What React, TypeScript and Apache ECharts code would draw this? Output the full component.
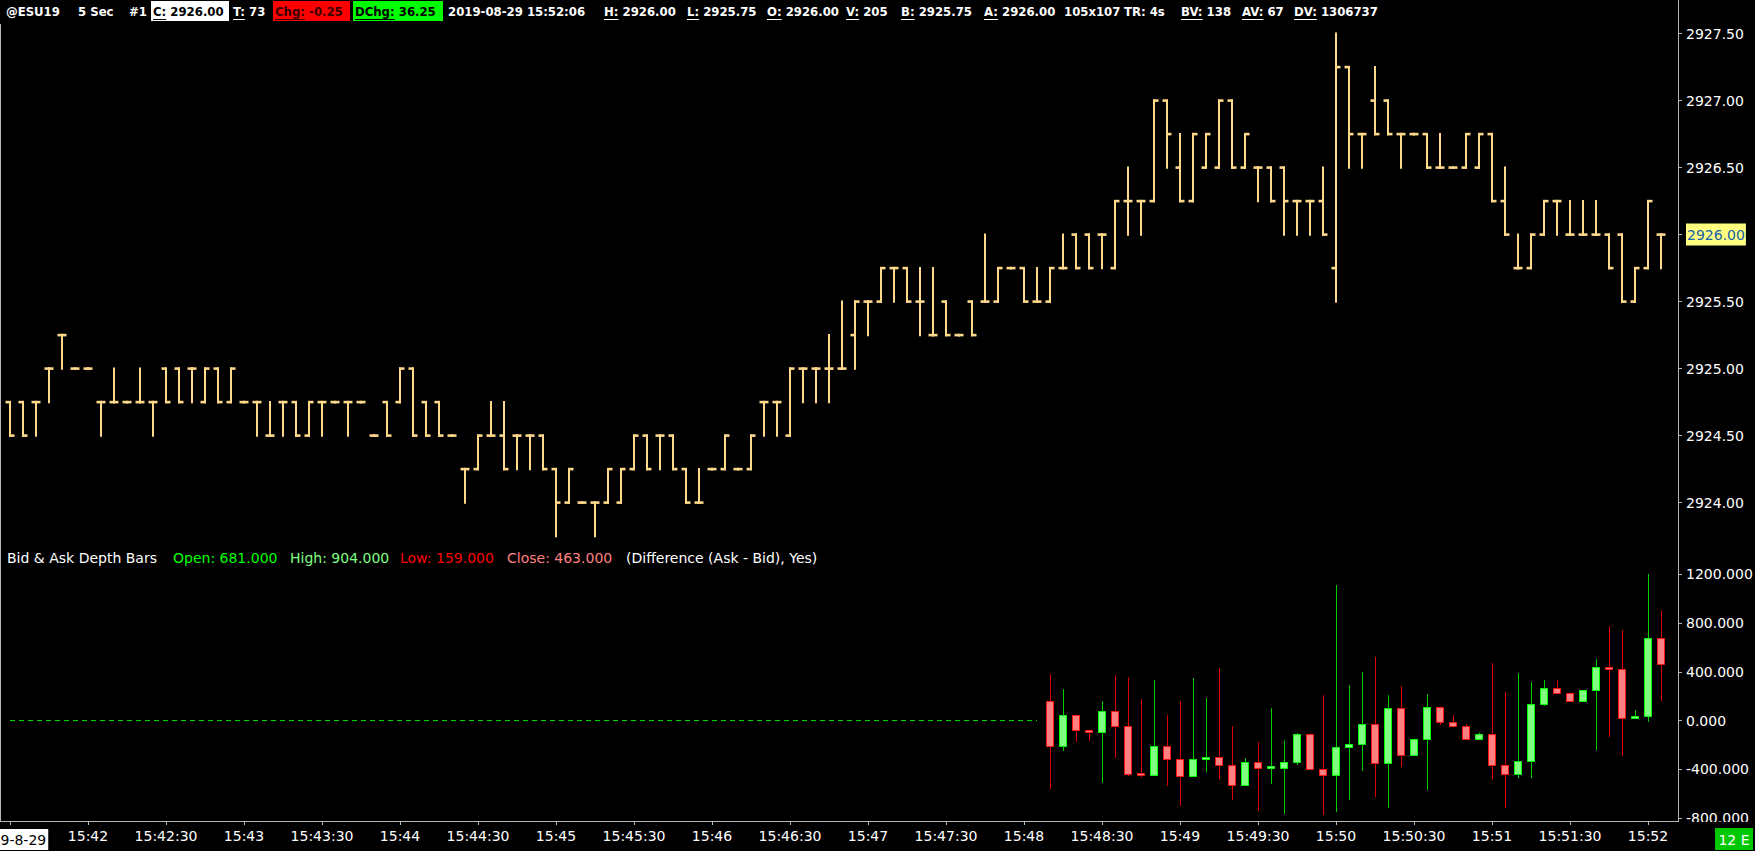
import React, { useEffect, useRef } from "react";
import * as echarts from "echarts";

// ---------- time categories (5-second bars) ----------
const START_SECONDS = 15 * 3600 + 41 * 60 + 30;
const BAR_SECONDS = 5;
const BAR_COUNT = 128;
const pad2 = (n: number) => String(n).padStart(2, "0");
const TIMES: string[] = Array.from({ length: BAR_COUNT }, (_, i) => {
  const s = START_SECONDS + BAR_SECONDS * i;
  return `${pad2(Math.floor(s / 3600))}:${pad2(Math.floor((s % 3600) / 60))}:${pad2(s % 60)}`;
});
const DATE_LABEL = "2019-8-29";
const LABEL_EVERY = 6;

// ---------- price bars (@ESU19, 5 sec) ----------
const priceOpen = [
  2924.75, 2924.75, 2924.75, 2925.0, 2925.25, 2925.0, 2925.0, 2924.75, 2924.75, 2924.75,
  2924.75, 2924.75, 2925.0, 2925.0, 2925.0, 2924.75, 2925.0, 2924.75, 2924.75, 2924.75,
  2924.5, 2924.75, 2924.75, 2924.5, 2924.75, 2924.75, 2924.75, 2924.75, 2924.5, 2924.75,
  2924.75, 2925.0, 2924.75, 2924.75, 2924.5, 2924.25, 2924.25, 2924.5, 2924.5, 2924.5,
  2924.5, 2924.5, 2924.25, 2924.0, 2924.0, 2924.0, 2924.0, 2924.0, 2924.25, 2924.5,
  2924.5, 2924.5, 2924.25, 2924.0, 2924.25, 2924.25, 2924.25, 2924.25, 2924.75, 2924.75,
  2924.5, 2925.0, 2925.0, 2925.0, 2925.0, 2925.25, 2925.5, 2925.5, 2925.75, 2925.75,
  2925.5, 2925.25, 2925.5, 2925.25, 2925.5, 2925.5, 2925.5, 2925.75, 2925.75, 2925.5,
  2925.5, 2925.75, 2926.0, 2926.0, 2926.0, 2925.75, 2926.25, 2926.25, 2926.25, 2927.0,
  2926.5, 2926.25, 2926.5, 2926.5, 2927.0, 2926.5, 2926.5, 2926.5, 2926.5, 2926.25,
  2926.25, 2926.25, 2925.75, 2927.25, 2926.75, 2927.0, 2927.0, 2926.75, 2926.75, 2926.75,
  2926.5, 2926.5, 2926.5, 2926.5, 2926.75, 2926.25, 2925.75, 2925.75, 2926.0, 2926.25,
  2926.0, 2926.0, 2926.0, 2926.0, 2926.0, 2925.5, 2925.75, 2926.0,
];
const priceHigh = [
  2924.75, 2924.75, 2924.75, 2925.0, 2925.25, 2925.0, 2925.0, 2924.75, 2925.0, 2924.75,
  2925.0, 2924.75, 2925.0, 2925.0, 2925.0, 2925.0, 2925.0, 2925.0, 2924.75, 2924.75,
  2924.75, 2924.75, 2924.75, 2924.75, 2924.75, 2924.75, 2924.75, 2924.75, 2924.5, 2924.75,
  2925.0, 2925.0, 2924.75, 2924.75, 2924.5, 2924.25, 2924.5, 2924.75, 2924.75, 2924.5,
  2924.5, 2924.5, 2924.25, 2924.25, 2924.0, 2924.0, 2924.25, 2924.25, 2924.5, 2924.5,
  2924.5, 2924.5, 2924.25, 2924.25, 2924.25, 2924.5, 2924.25, 2924.5, 2924.75, 2924.75,
  2925.0, 2925.0, 2925.0, 2925.25, 2925.5, 2925.5, 2925.5, 2925.75, 2925.75, 2925.75,
  2925.75, 2925.75, 2925.5, 2925.25, 2925.5, 2926.0, 2925.75, 2925.75, 2925.75, 2925.75,
  2925.75, 2926.0, 2926.0, 2926.0, 2926.0, 2926.25, 2926.5, 2926.25, 2927.0, 2927.0,
  2926.75, 2926.75, 2926.75, 2927.0, 2927.0, 2926.75, 2926.5, 2926.5, 2926.5, 2926.25,
  2926.25, 2926.5, 2927.5, 2927.25, 2926.75, 2927.25, 2927.0, 2926.75, 2926.75, 2926.75,
  2926.75, 2926.5, 2926.75, 2926.75, 2926.75, 2926.5, 2926.0, 2926.0, 2926.25, 2926.25,
  2926.25, 2926.25, 2926.25, 2926.0, 2926.0, 2925.75, 2926.25, 2926.0,
];
const priceLow = [
  2924.5, 2924.5, 2924.5, 2924.75, 2925.0, 2925.0, 2925.0, 2924.5, 2924.75, 2924.75,
  2924.75, 2924.5, 2924.75, 2924.75, 2924.75, 2924.75, 2924.75, 2924.75, 2924.75, 2924.5,
  2924.5, 2924.5, 2924.5, 2924.5, 2924.5, 2924.75, 2924.5, 2924.75, 2924.5, 2924.5,
  2924.75, 2924.5, 2924.5, 2924.5, 2924.5, 2924.0, 2924.25, 2924.5, 2924.25, 2924.25,
  2924.25, 2924.25, 2923.75, 2924.0, 2924.0, 2923.75, 2924.0, 2924.0, 2924.25, 2924.25,
  2924.25, 2924.25, 2924.0, 2924.0, 2924.25, 2924.25, 2924.25, 2924.25, 2924.5, 2924.5,
  2924.5, 2924.75, 2924.75, 2924.75, 2925.0, 2925.0, 2925.25, 2925.5, 2925.5, 2925.5,
  2925.25, 2925.25, 2925.25, 2925.25, 2925.25, 2925.5, 2925.5, 2925.75, 2925.5, 2925.5,
  2925.5, 2925.75, 2925.75, 2925.75, 2925.75, 2925.75, 2926.0, 2926.0, 2926.25, 2926.5,
  2926.25, 2926.25, 2926.5, 2926.5, 2926.5, 2926.5, 2926.25, 2926.25, 2926.0, 2926.0,
  2926.0, 2926.0, 2925.5, 2926.5, 2926.5, 2926.75, 2926.75, 2926.5, 2926.75, 2926.5,
  2926.5, 2926.5, 2926.5, 2926.5, 2926.25, 2926.0, 2925.75, 2925.75, 2926.0, 2926.0,
  2926.0, 2926.0, 2926.0, 2925.75, 2925.5, 2925.5, 2925.75, 2925.75,
];
const priceClose = [
  2924.5, 2924.5, 2924.75, 2925.0, 2925.25, 2925.0, 2925.0, 2924.75, 2924.75, 2924.75,
  2924.75, 2924.75, 2924.75, 2924.75, 2925.0, 2925.0, 2924.75, 2925.0, 2924.75, 2924.75,
  2924.5, 2924.75, 2924.5, 2924.75, 2924.75, 2924.75, 2924.75, 2924.75, 2924.5, 2924.5,
  2925.0, 2924.5, 2924.5, 2924.5, 2924.5, 2924.25, 2924.5, 2924.5, 2924.25, 2924.5,
  2924.5, 2924.25, 2924.0, 2924.25, 2924.0, 2924.0, 2924.25, 2924.25, 2924.5, 2924.25,
  2924.5, 2924.25, 2924.0, 2924.0, 2924.25, 2924.5, 2924.25, 2924.5, 2924.75, 2924.75,
  2925.0, 2925.0, 2925.0, 2925.0, 2925.0, 2925.5, 2925.5, 2925.75, 2925.75, 2925.5,
  2925.5, 2925.25, 2925.25, 2925.25, 2925.25, 2925.5, 2925.75, 2925.75, 2925.5, 2925.5,
  2925.75, 2925.75, 2925.75, 2925.75, 2926.0, 2926.25, 2926.25, 2926.25, 2927.0, 2926.75,
  2926.25, 2926.75, 2926.75, 2927.0, 2926.5, 2926.75, 2926.5, 2926.25, 2926.25, 2926.25,
  2926.25, 2926.0, 2927.25, 2926.75, 2926.75, 2926.75, 2926.75, 2926.75, 2926.75, 2926.5,
  2926.5, 2926.5, 2926.75, 2926.75, 2926.25, 2926.0, 2925.75, 2926.0, 2926.25, 2926.25,
  2926.0, 2926.0, 2926.0, 2925.75, 2925.5, 2925.75, 2926.25, 2926.0,
];
const PRICE_MIN = 2924.0;
const PRICE_MAX = 2927.5;
const PRICE_STEP = 0.5;
const LAST_PRICE = 2926.0;

// ---------- Bid & Ask depth bars (Ask - Bid), starting at bar index 80 ----------
const DEPTH_START = 80;
const depthOpen = [
  164, -205, 49, -74, -93, 82, -41, -436, -447, -205, -315, -452, -315, -296, -362, -529,
  -337, -386, -386, -337, -112, -397, -444, -214, -189, -25, -345, 107, -282, -148, 115, -8,
  -41, -151, -107, -364, -438, -329, 132, 263, 222, 164, 247, 436, 425, 25, 36, 681,
];
const depthClose = [
  -205, 49, -74, -90, 82, -41, -436, -447, -205, -315, -452, -315, -296, -362, -529, -337,
  -386, -382, -337, -112, -397, -444, -214, -189, -25, -345, 107, -282, -148, 115, -8, -41,
  -151, -107, -364, -438, -329, 132, 263, 222, 164, 247, 436, 425, 25, 36, 680, 463,
];
const depthLow = [
  -564, -249, -175, -167, -512, -307, -455, -466, -455, -537, -701, -458, -425, -482, -652, -529,
  -742, -521, -767, -364, -400, -775, -751, -652, -414, -627, -718, -384, -282, -570, -36, -41,
  -151, -151, -482, -718, -474, -474, 121, 222, 164, 156, -244, -137, -290, 14, -11, 159,
];
const depthHigh = [
  381, 258, 49, -74, 159, 373, 356, 175, 332, 44, 159, 348, 184, 430, -47, -310,
  -178, 101, -162, -104, -104, 208, 1112, 290, 397, 521, 208, 282, -148, 216, 115, 44,
  -30, -99, 471, 233, 389, 315, 332, 332, 230, 247, 504, 775, 742, 85, 1203, 904,
];
const DEPTH_MIN = -800;
const DEPTH_MAX = 1200;
const DEPTH_STEP = 400;

// ---------- texts ----------
const HEADER_FONT = 'bold 13px "DejaVu Sans Condensed", "DejaVu Sans"';
const headerItems = [
  { label: "", value: "@ESU19", x: 6 },
  { label: "", value: "5 Sec", x: 78 },
  { label: "", value: "#1", x: 129 },
  { label: "C:", value: " 2926.00", x: 153, color: "#000", bg: "#FFFFFF", bx0: 151, bx1: 229 },
  { label: "T:", value: " 73", x: 233 },
  { label: "Chg:", value: " -0.25", x: 275, color: "#3A0000", bg: "#FF0000", bx0: 273, bx1: 350 },
  { label: "DChg:", value: " 36.25", x: 355, color: "#000", bg: "#00FF00", bx0: 353, bx1: 443 },
  { label: "", value: "2019-08-29 15:52:06", x: 448 },
  { label: "H:", value: " 2926.00", x: 604 },
  { label: "L:", value: " 2925.75", x: 687 },
  { label: "O:", value: " 2926.00", x: 767 },
  { label: "V:", value: " 205", x: 846 },
  { label: "B:", value: " 2925.75", x: 901 },
  { label: "A:", value: " 2926.00", x: 984 },
  { label: "", value: "105x107", x: 1064 },
  { label: "", value: "TR: 4s", x: 1124 },
  { label: "BV:", value: " 138", x: 1181 },
  { label: "AV:", value: " 67", x: 1242 },
  { label: "DV:", value: " 1306737", x: 1294 },
];
const STUDY_FONT = '14px "DejaVu Sans"';
const studyItems = [
  { text: "Bid & Ask Depth Bars", x: 7, color: "#FFFFFF" },
  { text: "Open: 681.000", x: 173, color: "#00FF00" },
  { text: "High: 904.000", x: 290, color: "#80FF80" },
  { text: "Low: 159.000", x: 400, color: "#FF0000" },
  { text: "Close: 463.000", x: 507, color: "#FF8080" },
  { text: "(Difference (Ask - Bid), Yes)", x: 626, color: "#FFFFFF" },
];

const BAR_COLOR = "#FFD98A";
const AXIS_GRAY = "#B4B4B4";
const UP_FILL = "#80FF80";
const UP_BORDER = "#00FF00";
const UP_WICK = "#00D000";
const DN_FILL = "#FF8080";
const DN_BORDER = "#FF1010";
const DN_WICK = "#E00000";
const AXIS_FONT = "DejaVu Sans";

function measure(text: string, font: string): number {
  const c = document.createElement("canvas").getContext("2d");
  if (!c) return text.length * 7;
  c.font = font;
  return c.measureText(text).width;
}

export default function App() {
  const ref = useRef<HTMLDivElement>(null);

  useEffect(() => {
    if (!ref.current) return;
    const chart = echarts.init(ref.current, null, { renderer: "svg", width: 1755, height: 851 });

    const priceData = TIMES.map((_, i) => [i, priceOpen[i], priceHigh[i], priceLow[i], priceClose[i]]);
    const depthData = depthOpen.map((o, j) => [DEPTH_START + j, o, depthClose[j], depthLow[j], depthHigh[j]]);
    const zeroLine = TIMES.map((_, i) => (i < DEPTH_START ? 0 : null));

    const labelInterval = (index: number) => index % LABEL_EVERY === 0;

    const graphics: any[] = [];
    // frame lines
    graphics.push({ type: "line", z: 50, shape: { x1: 0.5, y1: 24, x2: 0.5, y2: 822 }, style: { stroke: AXIS_GRAY, lineWidth: 1 } });
    graphics.push({ type: "line", z: 50, shape: { x1: 1678.5, y1: 0, x2: 1678.5, y2: 822 }, style: { stroke: AXIS_GRAY, lineWidth: 1 } });
    graphics.push({ type: "line", z: 50, shape: { x1: 0, y1: 821.5, x2: 1679, y2: 821.5 }, style: { stroke: AXIS_GRAY, lineWidth: 1 } });
    // header
    headerItems.forEach((it: any) => {
      const color = it.color || "#FFFFFF";
      if (it.bg) {
        graphics.push({ type: "rect", z: 60, shape: { x: it.bx0, y: 1, width: it.bx1 - it.bx0, height: 20 }, style: { fill: it.bg } });
      }
      graphics.push({
        type: "text", z: 61, x: it.x, y: 11.5,
        style: { text: it.label + it.value, fill: color, font: HEADER_FONT, verticalAlign: "middle", textVerticalAlign: "middle", align: "left" },
      });
      if (it.label) {
        const w = measure(it.label, HEADER_FONT);
        graphics.push({ type: "line", z: 61, shape: { x1: it.x, y1: 19.5, x2: it.x + w, y2: 19.5 }, style: { stroke: color, lineWidth: 1 } });
      }
    });
    // study header
    studyItems.forEach((it) => {
      graphics.push({
        type: "text", z: 61, x: it.x, y: 558,
        style: { text: it.text, fill: it.color, font: STUDY_FONT, verticalAlign: "middle", textVerticalAlign: "middle", align: "left" },
      });
    });
    // mask below the plot on the right, and the "12 E" badge
    graphics.push({ type: "rect", z: 90, shape: { x: 1679, y: 822, width: 76, height: 29 }, style: { fill: "#000" } });
    graphics.push({ type: "rect", z: 91, shape: { x: 1715, y: 828, width: 38, height: 22 }, style: { fill: "#00C800" } });
    graphics.push({
      type: "text", z: 92, x: 1734, y: 839.5,
      style: { text: "12 E", fill: "#FFFFFF", font: '14px "DejaVu Sans"', align: "center", verticalAlign: "middle", textAlign: "center", textVerticalAlign: "middle" },
    });

    const option: any = {
      animation: false,
      backgroundColor: "#000000",
      grid: [
        { left: 3.5, width: 1664, top: 33.6, height: 469, containLabel: false, outerBoundsMode: "none" },
        { left: 3.5, width: 1664, top: 574.3, height: 243.75, containLabel: false, outerBoundsMode: "none" },
      ],
      xAxis: [
        { type: "category", gridIndex: 0, data: TIMES, boundaryGap: true, show: false },
        {
          type: "category", gridIndex: 1, data: TIMES, boundaryGap: true, position: "bottom", offset: 3,
          axisLine: { show: false, onZero: false },
          axisTick: { show: true, alignWithLabel: true, interval: labelInterval, length: 4, lineStyle: { color: AXIS_GRAY } },
          splitLine: { show: false },
          axisLabel: {
            interval: labelInterval, color: "#FFFFFF", fontFamily: AXIS_FONT, fontSize: 14, margin: 8,
            formatter: (v: string, i: number) => (i === 0 ? `{d|${DATE_LABEL}}` : v.endsWith(":00") ? v.slice(0, 5) : v),
            rich: { d: { backgroundColor: "#FFFFFF", color: "#000000", fontFamily: AXIS_FONT, fontSize: 14, padding: [4, 2, 3, 2] } },
          },
        },
      ],
      yAxis: [
        {
          type: "value", gridIndex: 0, position: "right", offset: 10.5,
          min: PRICE_MIN, max: PRICE_MAX, interval: PRICE_STEP,
          axisLine: { show: false },
          axisTick: { show: true, length: 4, lineStyle: { color: AXIS_GRAY } },
          splitLine: { show: false },
          axisLabel: {
            color: "#FFFFFF", fontFamily: AXIS_FONT, fontSize: 14, margin: 8,
            formatter: (v: number) => (v === LAST_PRICE ? `{cur|${v.toFixed(2)}}` : v.toFixed(2)),
            rich: { cur: { backgroundColor: "#FFFF80", color: "#1560A8", fontFamily: AXIS_FONT, fontSize: 14, padding: [4, 1, 4, 1] } },
          },
        },
        {
          type: "value", gridIndex: 1, position: "right", offset: 10.5,
          min: DEPTH_MIN, max: DEPTH_MAX, interval: DEPTH_STEP,
          axisLine: { show: false },
          axisTick: { show: true, length: 4, lineStyle: { color: AXIS_GRAY } },
          splitLine: { show: false },
          axisLabel: { color: "#FFFFFF", fontFamily: AXIS_FONT, fontSize: 14, margin: 8, formatter: (v: number) => v.toFixed(3) },
        },
      ],
      series: [
        {
          type: "custom", name: "@ESU19", xAxisIndex: 0, yAxisIndex: 0, clip: false, silent: true,
          data: priceData, encode: { x: 0, y: [1, 2, 3, 4] },
          renderItem: (_p: any, api: any) => {
            const i = api.value(0);
            const pO = api.coord([i, api.value(1)]);
            const yH = api.coord([i, api.value(2)])[1];
            const yL = api.coord([i, api.value(3)])[1];
            const yC = api.coord([i, api.value(4)])[1];
            const x = Math.round(pO[0]);
            return {
              type: "group",
              children: [
                { type: "line", shape: { x1: x, y1: yH - 1.2, x2: x, y2: yL + 1.2 }, style: { stroke: BAR_COLOR, lineWidth: 2 } },
                { type: "line", shape: { x1: x - 4.5, y1: pO[1], x2: x + 1, y2: pO[1] }, style: { stroke: BAR_COLOR, lineWidth: 2.6 } },
                { type: "line", shape: { x1: x - 1, y1: yC, x2: x + 4.5, y2: yC }, style: { stroke: BAR_COLOR, lineWidth: 2.6 } },
              ],
            };
          },
        },
        {
          type: "line", name: "zero", xAxisIndex: 1, yAxisIndex: 1, data: zeroLine, showSymbol: false, symbol: "none", silent: true,
          lineStyle: { color: "#00E000", width: 1, type: [5, 4] },
        },
        {
          type: "custom", name: "Bid & Ask Depth Bars", xAxisIndex: 1, yAxisIndex: 1, clip: false, silent: true,
          data: depthData, encode: { x: 0, y: [1, 2, 3, 4] },
          renderItem: (_p: any, api: any) => {
            const i = api.value(0);
            const o = api.value(1);
            const c = api.value(2);
            const up = c >= o;
            const yO = api.coord([i, o]);
            const yC = api.coord([i, c])[1];
            const yL = api.coord([i, api.value(3)])[1];
            const yH = api.coord([i, api.value(4)])[1];
            const x = Math.round(yO[0]);
            let top = Math.min(yO[1], yC);
            let bot = Math.max(yO[1], yC);
            if (bot - top < 2) {
              const m = (top + bot) / 2;
              top = m - 1;
              bot = m + 1;
            }
            top = Math.round(top) + 0.5;
            bot = Math.round(bot) + 0.5;
            return {
              type: "group",
              children: [
                { type: "line", shape: { x1: x + 0.5, y1: yH, x2: x + 0.5, y2: yL }, style: { stroke: up ? UP_WICK : DN_WICK, lineWidth: 1 } },
                {
                  type: "rect", shape: { x: x - 3.5, y: top, width: 7, height: Math.max(1, bot - top) },
                  style: { fill: up ? UP_FILL : DN_FILL, stroke: up ? UP_BORDER : DN_BORDER, lineWidth: 1 },
                },
              ],
            };
          },
        },
      ],
      graphic: { elements: graphics },
    };

    chart.setOption(option);
    return () => chart.dispose();
  }, []);

  return (
    <div
      ref={ref}
      style={{ position: "fixed", left: 0, top: 0, width: 1755, height: 851, background: "#000000" }}
    />
  );
}
